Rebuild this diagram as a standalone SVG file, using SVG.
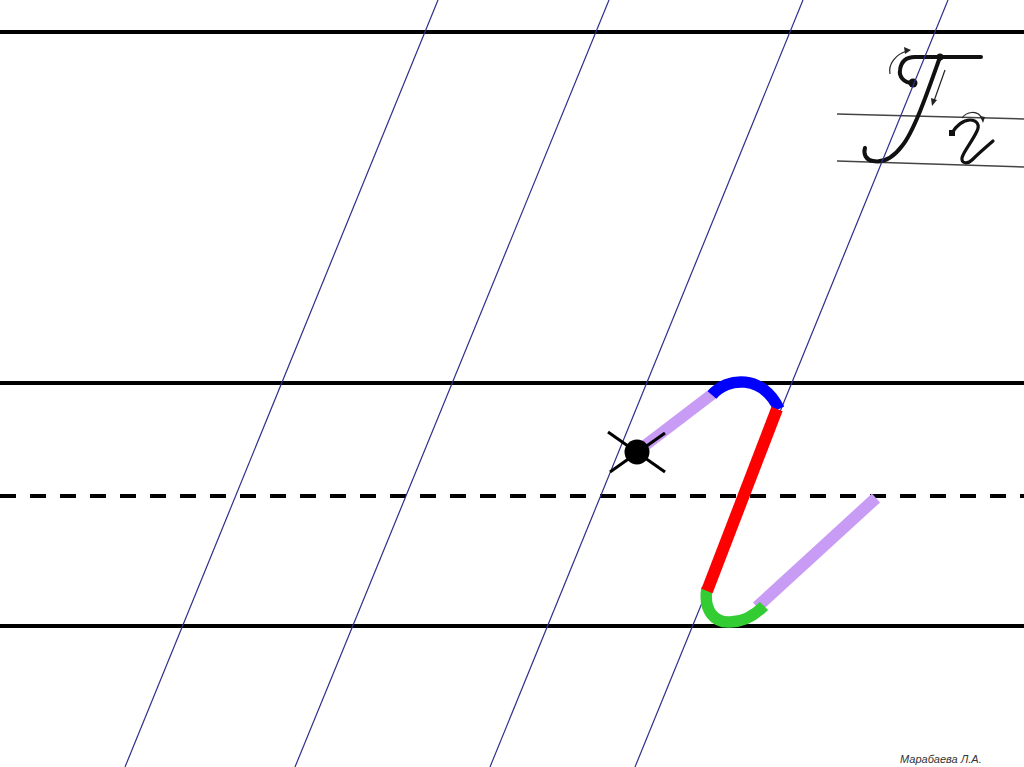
<svg xmlns="http://www.w3.org/2000/svg" width="1024" height="767" viewBox="0 0 1024 767">
<style>
.rule{stroke:#000;stroke-width:4;fill:none}
.dash{stroke:#000;stroke-width:4;stroke-dasharray:16 14;fill:none}
.slant{stroke:#2e2e8c;stroke-width:1.2;fill:none}
.guide{stroke:#444;stroke-width:1.5;fill:none}
.pen{stroke:#111;stroke-width:4;fill:none;stroke-linecap:round;stroke-linejoin:round}
.thin{stroke:#222;stroke-width:1.2;fill:none}
.seg{fill:none;stroke-width:11.5;stroke-linecap:butt}
</style>
<rect x="0" y="0" width="1024" height="767" fill="#fff"/>
<g id="ruling">
<line class="rule" x1="0" y1="32" x2="1024" y2="32"/>
<line class="rule" x1="0" y1="383" x2="1024" y2="383"/>
<line class="dash" x1="0" y1="496" x2="1024" y2="496"/>
<line class="rule" x1="0" y1="626" x2="1024" y2="626"/>
</g>
<g id="sample-letters">
<line class="guide" x1="837" y1="114" x2="1024" y2="119"/>
<line class="guide" x1="837" y1="161" x2="1024" y2="167"/>
<path class="pen" d="M913,83 C903,83 899,76 900,70 C901,62 906,57 915,57 L981,57"/>
<path class="pen" d="M940,57 C930,85 915,130 902,146 C893,158 884,163 873,161 C866,160 863,154 865,148"/>
<circle cx="913" cy="83" r="4.5" fill="#111"/>
<circle cx="940" cy="57" r="3.5" fill="#111"/>
<path class="thin" d="M890,74 C888,64 896,54 907,51"/>
<polygon points="911,50 904,47 905,54" fill="#222"/>
<path class="thin" d="M945,70 L934,101"/>
<polygon points="932,106 931,98 937,100" fill="#222"/>
<path class="pen" style="stroke-width:3.2" d="M952,133 C956,126 963,120 970,120 C977,120 980,125 977,131 C972,142 963,152 962,158 C961,164 968,164 972,160 C979,153 986,147 993,141"/>
<rect x="949" y="130" width="6" height="6" fill="#111"/>
<path class="thin" d="M962,118 C966,112 978,109 982,119"/>
<polygon points="983,123 980,116 985,117" fill="#222"/>
</g>
<g id="slant-lines">
<line class="slant" x1="438" y1="0" x2="125" y2="767"/>
<line class="slant" x1="609" y1="0" x2="295" y2="767"/>
<line class="slant" x1="803" y1="0" x2="490" y2="767"/>
<line class="slant" x1="948" y1="0" x2="635" y2="767"/>
</g>
<g id="letter-element">
<path class="seg" stroke="#c89bf5" d="M643,447 L715,392"/>
<path class="seg" stroke="#0000ff" d="M712,395 C727,377 763,374 779,409"/>
<path class="seg" stroke="#c89bf5" style="stroke-width:12" d="M757,607 L876,498"/>
<path class="seg" stroke="#33cc33" d="M707,588 C703,611 715,623 730,622 C745,622 755,615 764,606"/>
<path class="seg" stroke="#ff0000" style="stroke-width:12" d="M777,409 L707,591"/>
</g>
<g id="start-point">
<line x1="608" y1="432" x2="665" y2="472" stroke="#000" stroke-width="3"/>
<line x1="610" y1="472" x2="665" y2="433" stroke="#000" stroke-width="3"/>
<circle cx="637" cy="452" r="12.5" fill="#000"/>
</g>
<text id="author" x="900" y="763" font-family="Liberation Sans, Arial, sans-serif" font-style="italic" font-size="11" fill="#333">Марабаева Л.А.</text>
</svg>
